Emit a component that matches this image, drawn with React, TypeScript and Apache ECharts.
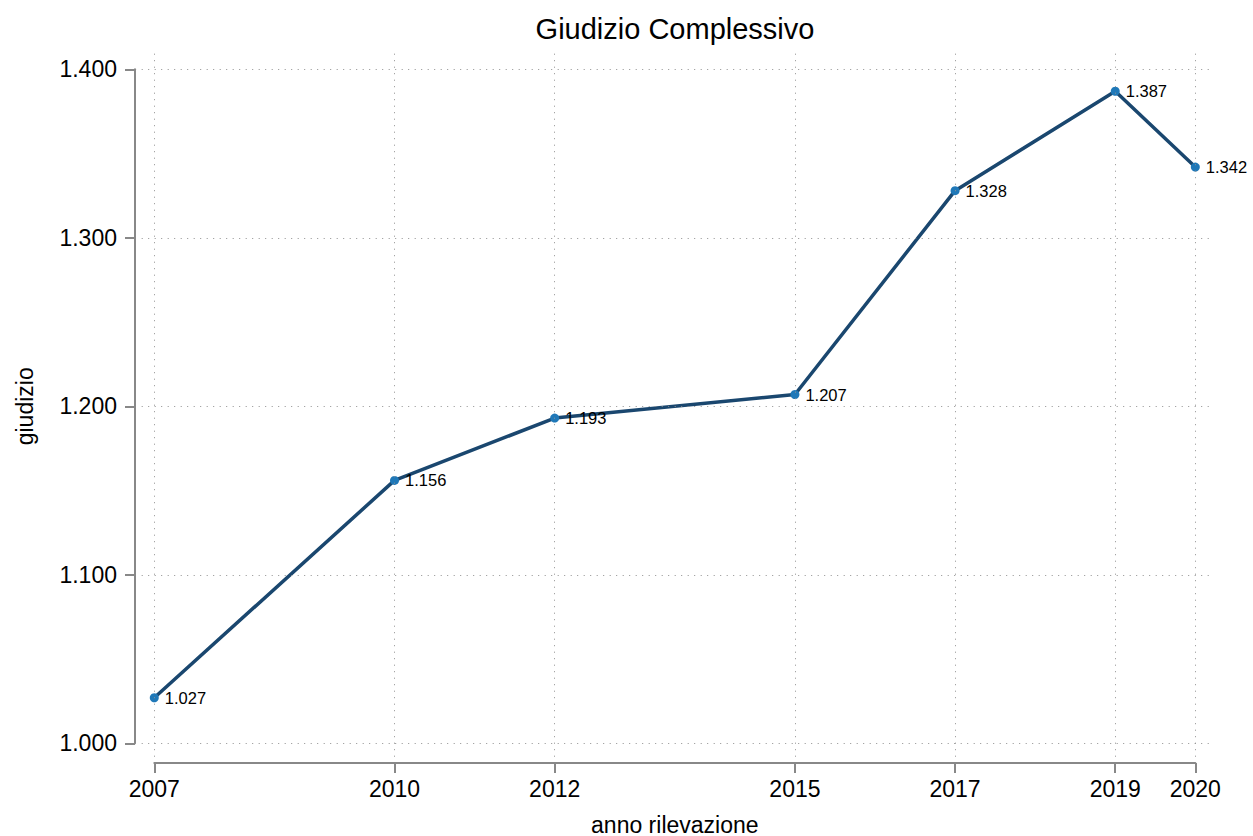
import React, { useEffect, useRef } from "react";
import * as echarts from "echarts";

const years = [2007, 2010, 2012, 2015, 2017, 2019, 2020];
const values = [1.027, 1.156, 1.193, 1.207, 1.328, 1.387, 1.342];
const yTicks = [1.0, 1.1, 1.2, 1.3, 1.4];
const titleText = "Giudizio Complessivo";
const xName = "anno rilevazione";
const yName = "giudizio";

const FONT = "'Liberation Sans', Arial, sans-serif";

export default function App() {
  const ref = useRef<HTMLDivElement>(null);
  useEffect(() => {
    if (!ref.current) return;
    const chart = echarts.init(ref.current, undefined, { renderer: "svg" });
    const gridStyle = { color: "#8f8f8f", width: 1, type: [1, 5.5] as any };
    const hidden = {
      axisLine: { show: false },
      axisTick: { show: false },
      axisLabel: { show: false },
      splitLine: { show: false },
    };
    chart.setOption({
      animation: false,
      backgroundColor: "#ffffff",
      title: {
        text: titleText,
        left: 670,
        textAlign: "center",
        top: 9,
        textStyle: { fontFamily: FONT, fontSize: 29, fontWeight: "normal", color: "#000" },
      },
      grid: [
        { left: 141.7, right: 40.7, top: 51, bottom: 79.3, outerBoundsMode: "none", containLabel: false },
        { left: 154.3, right: 57.7, top: 69.3, bottom: 92.7, outerBoundsMode: "none", containLabel: false },
      ],
      xAxis: [
        { type: "value", gridIndex: 0, min: 2006.843, max: 2020.212, ...hidden },
        {
          type: "value",
          gridIndex: 1,
          min: 2007,
          max: 2020,
          offset: 19.7,
          name: xName,
          nameLocation: "middle",
          nameGap: 50,
          nameTextStyle: { fontFamily: FONT, fontSize: 23, color: "#000" },
          axisLine: { show: true, lineStyle: { color: "#888", width: 2 } },
          axisTick: { show: true, length: 10, customValues: years, lineStyle: { color: "#888", width: 2 } },
          axisLabel: {
            show: true,
            customValues: years,
            margin: 14,
            fontFamily: FONT,
            fontSize: 23,
            color: "#000",
            formatter: (v: number) => String(v),
          },
          splitLine: { show: false },
        },
      ],
      yAxis: [
        { type: "value", gridIndex: 0, min: 0.992, max: 1.4109, ...hidden },
        {
          type: "value",
          gridIndex: 1,
          min: 1.0,
          max: 1.4,
          interval: 0.1,
          offset: 19.3,
          name: yName,
          nameLocation: "middle",
          nameGap: 99,
          nameRotate: 90,
          nameTextStyle: { fontFamily: FONT, fontSize: 23, color: "#000" },
          axisLine: { show: true, lineStyle: { color: "#888", width: 2 } },
          axisTick: { show: true, length: 10, lineStyle: { color: "#888", width: 2 } },
          axisLabel: {
            show: true,
            margin: 18,
            fontFamily: FONT,
            fontSize: 23,
            color: "#000",
            formatter: (v: number) => v.toFixed(3),
          },
          splitLine: { show: false },
        },
      ],
      series: [
        {
          type: "line",
          xAxisIndex: 0,
          yAxisIndex: 0,
          data: [],
          silent: true,
          z: 1,
          markLine: {
            silent: true,
            symbol: "none",
            label: { show: false },
            lineStyle: gridStyle,
            emphasis: { disabled: true },
            data: [
              ...yTicks.map((v) => ({ yAxis: v })),
              ...years.map((v) => ({ xAxis: v })),
            ],
          },
        },
        {
          type: "line",
          xAxisIndex: 0,
          yAxisIndex: 0,
          z: 3,
          data: years.map((y, i) => [y, values[i]]),
          lineStyle: { color: "#1a476f", width: 3.5 },
          symbol: "circle",
          symbolSize: 9,
          itemStyle: { color: "#1f78b8" },
          label: {
            show: true,
            position: "right",
            distance: 6,
            fontFamily: FONT,
            fontSize: 16.5,
            color: "#000",
            formatter: (p: any) => Number(p.value[1]).toFixed(3),
          },
        },
      ],
    });
    return () => chart.dispose();
  }, []);
  return (
    <div
      ref={ref}
      style={{ position: "fixed", left: 0, top: 0, width: 1253, height: 836, background: "#fff" }}
    />
  );
}
